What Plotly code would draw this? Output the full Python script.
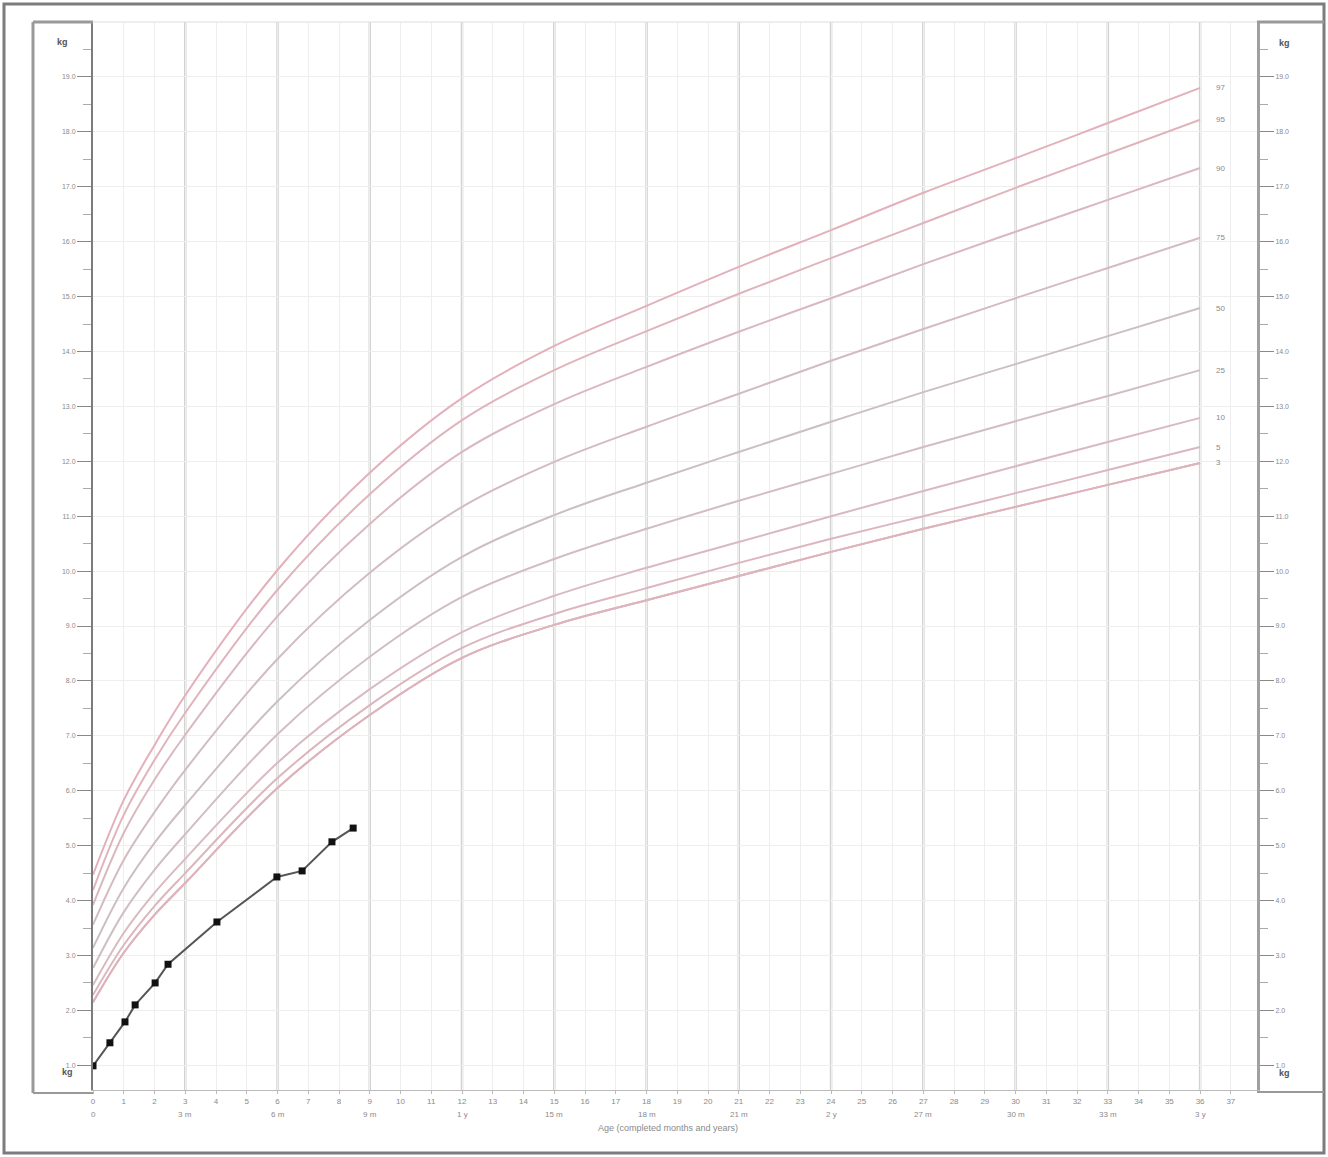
import plotly.graph_objects as go

# ---------------- data ----------------
ages = [0, 1, 2, 3, 6, 9, 12, 15, 18, 21, 24, 27, 30, 33, 36]
p97 = [4.47, 5.83, 6.83, 7.74, 10.02, 11.79, 13.15, 14.10, 14.83, 15.54, 16.21, 16.89, 17.52, 18.16, 18.80]
p95 = [4.19, 5.56, 6.56, 7.42, 9.66, 11.40, 12.75, 13.66, 14.37, 15.05, 15.70, 16.34, 16.98, 17.60, 18.22]
p90 = [3.92, 5.23, 6.20, 7.02, 9.18, 10.86, 12.17, 13.04, 13.72, 14.36, 14.97, 15.59, 16.18, 16.76, 17.34]
p75 = [3.56, 4.74, 5.61, 6.38, 8.40, 9.97, 11.17, 11.99, 12.63, 13.23, 13.83, 14.41, 14.97, 15.52, 16.07]
p50 = [3.14, 4.23, 5.05, 5.74, 7.63, 9.11, 10.26, 11.02, 11.61, 12.17, 12.72, 13.26, 13.77, 14.28, 14.79]
p25 = [2.77, 3.79, 4.56, 5.21, 7.03, 8.44, 9.53, 10.22, 10.77, 11.28, 11.77, 12.26, 12.73, 13.19, 13.66]
p10 = [2.46, 3.41, 4.14, 4.76, 6.51, 7.85, 8.89, 9.55, 10.06, 10.53, 11.00, 11.46, 11.91, 12.35, 12.79]
p5 = [2.28, 3.19, 3.90, 4.50, 6.23, 7.56, 8.60, 9.22, 9.69, 10.15, 10.59, 11.00, 11.42, 11.84, 12.26]
p3 = [2.15, 3.05, 3.74, 4.32, 6.05, 7.38, 8.42, 9.02, 9.47, 9.91, 10.35, 10.77, 11.17, 11.57, 11.97]
percentile_names = ["97", "95", "90", "75", "50", "25", "10", "5", "3"]
percentile_series = [p97, p95, p90, p75, p50, p25, p10, p5, p3]

pt_age = [0, 0.55, 1.04, 1.37, 2.02, 2.44, 4.03, 5.98, 6.80, 7.77, 8.46]
pt_wt = [0.99, 1.41, 1.79, 2.10, 2.50, 2.84, 3.61, 4.43, 4.54, 5.07, 5.32]

month_ticks = [0, 1, 2, 3, 4, 5, 6, 7, 8, 9, 10, 11, 12, 13, 14, 15, 16, 17, 18,
               19, 20, 21, 22, 23, 24, 25, 26, 27, 28, 29, 30, 31, 32, 33, 34, 35, 36, 37]
month_labels = [str(m) for m in month_ticks]
row2_vals = [0, 3, 6, 9, 12, 15, 18, 21, 24, 27, 30, 33, 36]
row2_text = ["0", "3 m", "6 m", "9 m", "1 y", "15 m", "18 m", "21 m", "2 y",
             "27 m", "30 m", "33 m", "3 y"]
kg_ticks = [1, 2, 3, 4, 5, 6, 7, 8, 9, 10, 11, 12, 13, 14, 15, 16, 17, 18, 19]
kg_labels = [f"{v}.0" for v in kg_ticks]

# ---------------- styling ----------------
curve_colors = ["#e3b0bb", "#e0b4bd", "#dab8bf", "#d3bcc0", "#cdbfc1",
                "#d1bec2", "#d8bac0", "#dcb6be", "#ddb3bc"]
W, H = 1328, 1157
L, R, T, B = 93, 71, 22, 67
PW, PH = W - L - R, H - T - B


def px(x):
    return (x - L) / PW


def py(y):
    return (H - B - y) / PH


fig = go.Figure()

for name, series, col in zip(percentile_names, percentile_series, curve_colors):
    fig.add_trace(go.Scatter(x=ages, y=series, mode="lines",
                             line=dict(color=col, width=2, shape="spline", smoothing=1.0),
                             hoverinfo="skip", name=name))

# 3rd percentile also drawn against the right axis so that axis renders
fig.add_trace(go.Scatter(x=ages, y=p3, mode="lines", yaxis="y2",
                         line=dict(color=curve_colors[-1], width=2, shape="spline", smoothing=1.0),
                         hoverinfo="skip", showlegend=False))

fig.add_trace(go.Scatter(x=pt_age, y=pt_wt, mode="lines+markers",
                         line=dict(color="#555555", width=2),
                         marker=dict(symbol="square", size=7, color="#111111"),
                         name="patient"))

# 3-month major vertical grid lines
for v in row2_vals[1:]:
    fig.add_shape(type="line", xref="x", yref="paper", x0=v, x1=v, y0=0, y1=1,
                  line=dict(color="#d2d2d2", width=2.5), layer="below")

# percentile labels at right end
for name, series in zip(percentile_names, percentile_series):
    fig.add_annotation(x=36.45, y=series[-1], xref="x", yref="y", text=name,
                       showarrow=False, xanchor="left",
                       font=dict(size=8, color="#8a8a8a", family="Liberation Sans"))

# second row of x labels
for v, t in zip(row2_vals, row2_text):
    fig.add_annotation(x=v, y=py(1114), xref="x", yref="paper", text=t,
                       showarrow=False, xanchor="center", yanchor="middle",
                       font=dict(size=8, color="#8a8a8a", family="Liberation Sans"))

# axis title
fig.add_annotation(x=px(668), y=py(1135), xref="paper", yref="paper",
                   text="Age (completed months and years)", showarrow=False,
                   font=dict(size=9, color="#8a8a8a", family="Liberation Sans"))

# unit labels
for (ux, uy) in [(55, 35), (60, 1079), (1292, 36), (1292, 1080)]:
    fig.add_annotation(x=px(ux), y=py(uy), xref="paper", yref="paper", text="<b>kg</b>",
                       showarrow=False, font=dict(size=9, color="#555555", family="Liberation Sans"))

# frame lines
frame = "#7c7c7c"
fig.add_shape(type="rect", xref="paper", yref="paper", x0=px(4), x1=px(1324),
              y0=py(1153), y1=py(4), line=dict(color=frame, width=3))
fig.add_shape(type="line", xref="paper", yref="paper", x0=px(33), x1=px(33),
              y0=py(1093), y1=py(22), line=dict(color="#999999", width=3))
fig.add_shape(type="line", xref="paper", yref="paper", x0=px(33), x1=px(93),
              y0=py(22), y1=py(22), line=dict(color="#999999", width=3))
fig.add_shape(type="line", xref="paper", yref="paper", x0=px(33), x1=px(93),
              y0=py(1093), y1=py(1093), line=dict(color="#999999", width=2))
fig.add_shape(type="line", xref="paper", yref="paper", x0=px(1257), x1=px(1324),
              y0=py(22), y1=py(22), line=dict(color="#999999", width=3))
fig.add_shape(type="line", xref="paper", yref="paper", x0=px(1257), x1=px(1324),
              y0=py(1092), y1=py(1092), line=dict(color="#999999", width=2))
fig.add_shape(type="line", xref="paper", yref="paper", x0=0, x1=1,
              y0=1, y1=1, line=dict(color="#dddddd", width=1))

tickfont = dict(size=7, color="#8a8a8a", family="Liberation Sans")
fig.update_layout(
    width=W, height=H,
    margin=dict(l=L, r=R, t=T, b=B, pad=0),
    plot_bgcolor="white", paper_bgcolor="white",
    showlegend=False,
    xaxis=dict(range=[0, 37.85], tickvals=month_ticks, ticktext=month_labels,
               tickfont=dict(size=8, color="#8a8a8a", family="Liberation Sans"),
               ticks="outside", ticklen=3, tickcolor="#bbbbbb",
               showline=True, linecolor="#bbbbbb", linewidth=1,
               showgrid=True, gridcolor="#eeeeee", gridwidth=1, zeroline=False),
    yaxis=dict(range=[0.55, 20.0], tickvals=kg_ticks, ticktext=kg_labels,
               tickfont=tickfont, ticks="outside", ticklen=14, tickcolor="#888888",
               showline=True, linecolor="#7c7c7c", linewidth=2,
               showgrid=True, gridcolor="#eeeeee", gridwidth=1, zeroline=False,
               minor=dict(dtick=0.5, tick0=0.5, ticks="outside", ticklen=8,
                          tickcolor="#aaaaaa", showgrid=False)),
    yaxis2=dict(range=[0.55, 20.0], overlaying="y", side="right",
                tickvals=kg_ticks, ticktext=kg_labels,
                tickfont=tickfont, ticks="outside", ticklen=14, tickcolor="#888888",
                showline=True, linecolor="#a0a0a0", linewidth=3,
                showgrid=False, zeroline=False,
                minor=dict(dtick=0.5, tick0=0.5, ticks="outside", ticklen=8,
                           tickcolor="#aaaaaa")),
)

fig.write_html("out.html", config={"displayModeBar": False},
               post_script="document.body.style.margin='0px';")
